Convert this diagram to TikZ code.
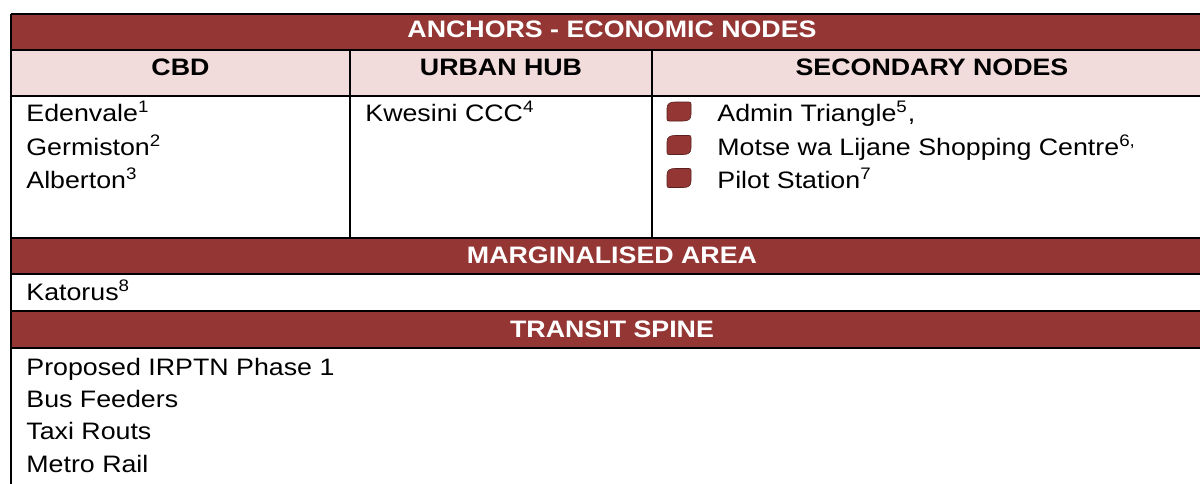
\documentclass[tikz,border=0pt]{standalone}
\usepackage{fontspec}
\setmainfont{Liberation Sans}[FakeStretch=1.125]
\definecolor{hdr}{HTML}{943634}
\definecolor{subhdr}{HTML}{F2DBDB}
\begin{document}
\begin{tikzpicture}[x=0.5pt,y=-0.5pt,
  fnt/.style={font=\fontsize{11.9pt}{14pt}\selectfont},
  txt/.style={fnt, inner sep=0pt, anchor=base west},
  hd/.style={inner sep=0pt, anchor=base, text=white, font=\fontsize{11.9pt}{14pt}\selectfont\bfseries},
  colhd/.style={inner sep=0pt, anchor=base, font=\fontsize{11.9pt}{14pt}\selectfont\bfseries},
  gridline/.style={line width=0.85pt, draw=black},
  leaf/.pic={\filldraw[fill=hdr, draw=hdr!60!black, line width=0.3pt]
    (-12,-3) .. controls (-12,-8) and (-9,-9.5) .. (-4,-9.5) -- (10,-9.5)
    .. controls (11.5,-9.5) and (12,-9) .. (12,-7.5) -- (12,3)
    .. controls (12,8) and (9,9.5) .. (4,9.5) -- (-10,9.5)
    .. controls (-11.5,9.5) and (-12,9) .. (-12,7.5) -- cycle;}]
\useasboundingbox (0,0) rectangle (1200,483);
\clip (0,0) rectangle (1200,483);
% fills
\fill[hdr] (11,14) rectangle (1212,50);
\fill[subhdr] (11,50) rectangle (1212,96);
\fill[hdr] (11,238) rectangle (1212,274);
\fill[hdr] (11,311) rectangle (1212,348);
% grid
\foreach \yy in {14,50,96,238,274,311,348}
  \draw[gridline] (11,\yy) -- (1212,\yy);
\draw[gridline] (11,14) -- (11,490);
\draw[gridline] (1212,14) -- (1212,490);
\draw[gridline] (350,50) -- (350,238);
\draw[gridline] (652,50) -- (652,238);
% headers
\node[hd] (anchors) at (612,37) {ANCHORS - ECONOMIC NODES};
\node[colhd] (cbd) at (180.5,75) {CBD};
\node[colhd] (hub) at (501,75) {URBAN HUB};
\node[colhd] (sec) at (932,75) {SECONDARY NODES};
% CBD column
\node[txt] (eden) at (26,121.5) {Edenvale\textsuperscript{1}};
\node[txt] (germ) at (26,155) {Germiston\textsuperscript{2}};
\node[txt] (albe) at (26,188) {Alberton\textsuperscript{3}};
% urban hub
\node[txt] (kwes) at (365,121.5) {Kwesini CCC\textsuperscript{4}};
% secondary nodes
\pic at (679,111.5) {leaf};
\pic at (679,145) {leaf};
\pic at (679,178) {leaf};
\node[txt] (admin) at (717,121.5) {Admin Triangle\textsuperscript{5},};
\node[txt] (motse) at (717,155) {Motse wa Lijane Shopping Centre\textsuperscript{6,}};
\node[txt] (pilot) at (717,188) {Pilot Station\textsuperscript{7}};
% marginalised
\node[hd] (marg) at (612,263) {MARGINALISED AREA};
\node[txt] (kato) at (26,300) {Katorus\textsuperscript{8}};
% transit
\node[hd] (trans) at (612,337) {TRANSIT SPINE};
\node[txt] (irptn) at (26,375) {Proposed IRPTN Phase 1};
\node[txt] (bus) at (26,407) {Bus Feeders};
\node[txt] (taxi) at (26,439.5) {Taxi Routs};
\node[txt] (metro) at (26,472) {Metro Rail};
\end{tikzpicture}
\end{document}
